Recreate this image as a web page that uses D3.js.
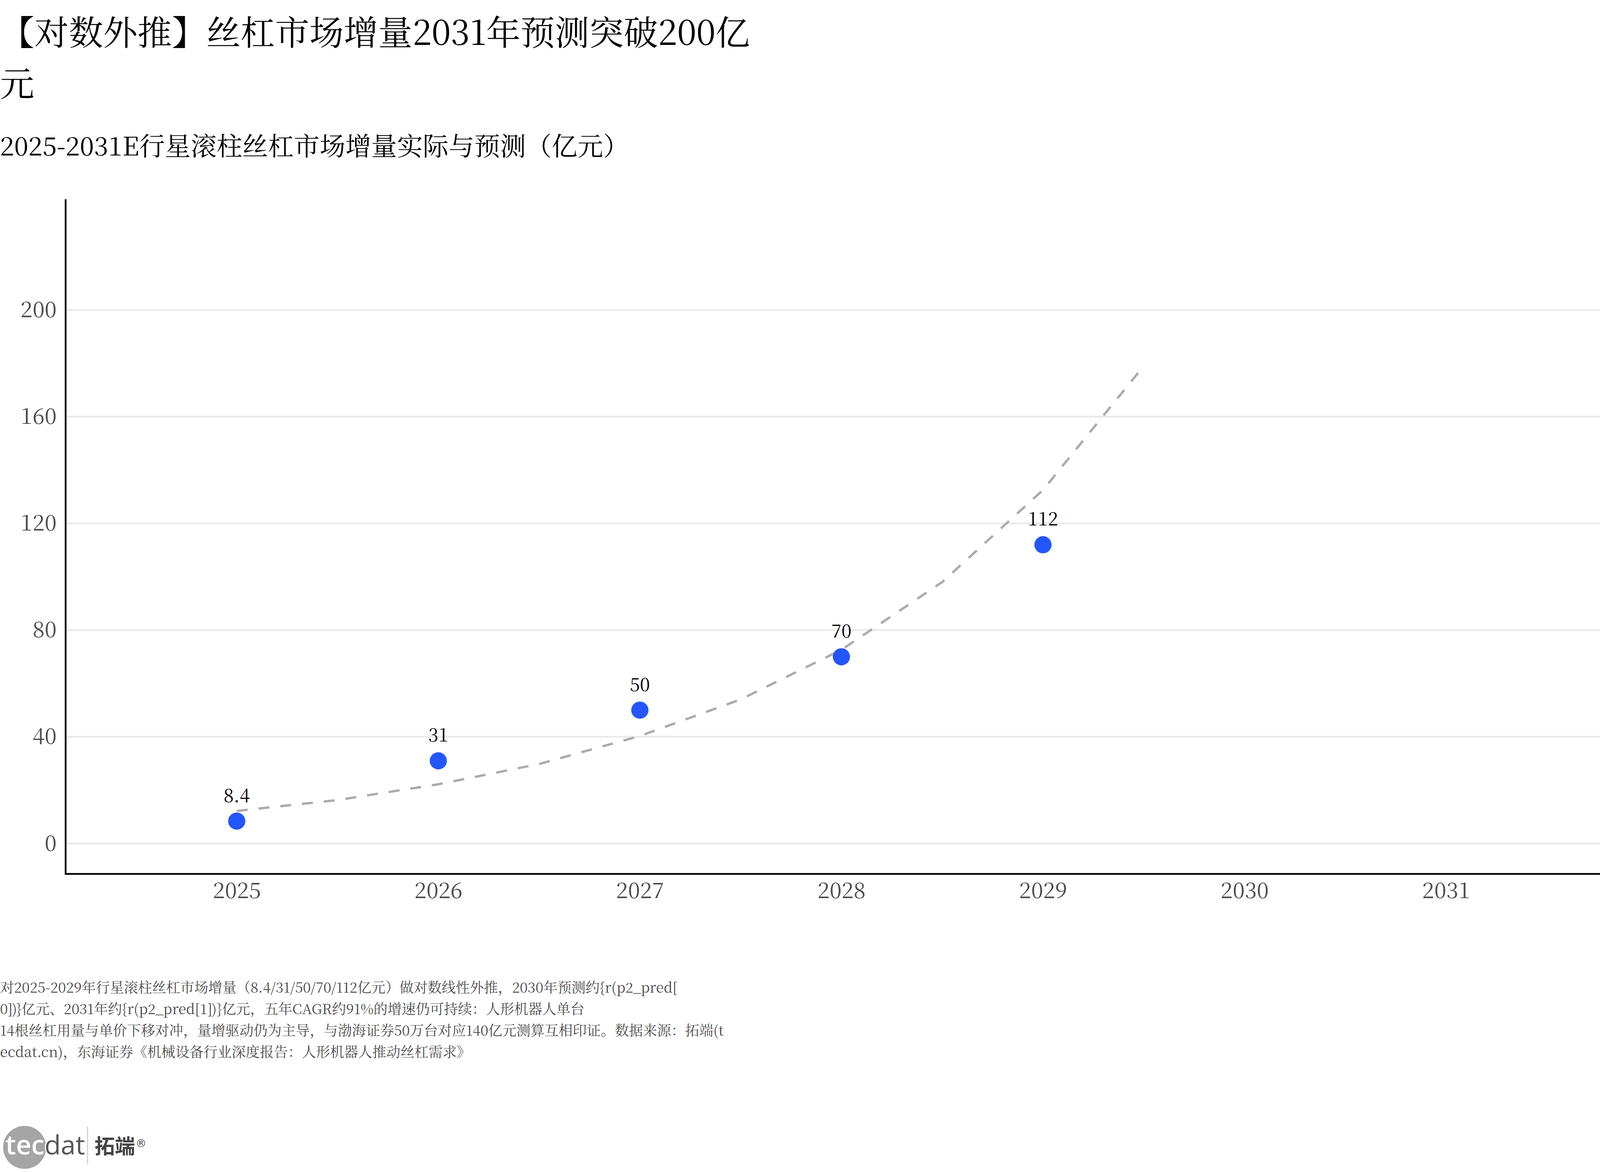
<!DOCTYPE html>
<html>
<head>
<meta charset="utf-8">
<script src="https://cdn.jsdelivr.net/npm/d3@7"></script>
<style>
  html, body { margin: 0; padding: 0; background: #fff; overflow: hidden; }
  .serif { font-family: "Noto Serif CJK SC", "Source Han Serif SC", "AR PL UMing CN", "Liberation Serif", "Noto Sans CJK SC", serif; }
</style>
</head>
<body>
<script>
(function(){

    //title and notes
    var titleLines = ["【对数外推】丝杠市场增量2031年预测突破200亿", "元"];
    var subtitle = "2025-2031E行星滚柱丝杠市场增量实际与预测（亿元）";
    var noteLines = [
        "对2025-2029年行星滚柱丝杠市场增量（8.4/31/50/70/112亿元）做对数线性外推，2030年预测约{r(p2_pred[",
        "0])}亿元、2031年约{r(p2_pred[1])}亿元，五年CAGR约91%的增速仍可持续：人形机器人单台",
        "14根丝杠用量与单价下移对冲，量增驱动仍为主导，与渤海证券50万台对应140亿元测算互相印证。数据来源：拓端(t",
        "ecdat.cn)，东海证券《机械设备行业深度报告：人形机器人推动丝杠需求》"
    ];

    //actual values
    var years = [2025, 2026, 2027, 2028, 2029];
    var actual = [8.4, 31, 50, 70, 112];
    var valueLabels = ["8.4", "31", "50", "70", "112"];

    //fitted trend
    var fitYears = [2025, 2025.5, 2026, 2026.5, 2027, 2027.5, 2028, 2028.5, 2029, 2029.5];
    var fitValues = [12.2, 16.3, 22.2, 29.8, 40.3, 54.0, 72.6, 98.0, 132.5, 179];

    //axis ticks
    var xTicks = [2025, 2026, 2027, 2028, 2029, 2030, 2031];
    var yTicks = [0, 40, 80, 120, 160, 200];

    var width = 4200, height = 3000;
    var plotLeft = 168, plotRight = 4140, plotTop = 510, plotBottom = 2237;

    var svg = d3.select("body")
        .append("svg")
        .attr("width", width)
        .attr("height", height)
        .style("display", "block");

    svg.append("rect")
        .attr("width", width)
        .attr("height", height)
        .attr("fill", "#fff");

    var x = d3.scaleLinear()
        .domain([2024.151, 2031.849])
        .range([plotLeft, plotRight]);

    var y = d3.scaleLinear()
        .domain([-11.4, 241.5])
        .range([plotBottom, plotTop]);

    //titles
    svg.selectAll(".title")
        .data(titleLines)
        .enter()
        .append("text")
        .attr("class", "title serif")
        .attr("x", 0)
        .attr("y", function(d, i){ return 115 + i * 131; })
        .attr("font-size", 88)
        .attr("fill", "#000")
        .text(function(d){ return d; });

    svg.append("text")
        .attr("class", "serif")
        .attr("x", 0)
        .attr("y", 398)
        .attr("font-size", 66)
        .attr("fill", "#000")
        .text(subtitle);

    //gridlines
    svg.selectAll(".grid")
        .data(yTicks)
        .enter()
        .append("line")
        .attr("class", "grid")
        .attr("x1", plotLeft)
        .attr("x2", plotRight)
        .attr("y1", function(d){ return y(d); })
        .attr("y2", function(d){ return y(d); })
        .attr("stroke", "#EBEBEB")
        .attr("stroke-width", 5);

    //axes
    var yAxis = svg.append("g")
        .attr("transform", "translate(" + plotLeft + ",0)")
        .call(d3.axisLeft(y).tickValues(yTicks).tickSize(0).tickPadding(23));
    yAxis.select(".domain").remove();

    var xAxis = svg.append("g")
        .attr("transform", "translate(0," + plotBottom + ")")
        .call(d3.axisBottom(x).tickValues(xTicks).tickFormat(d3.format("d")).tickSize(0).tickPadding(22));
    xAxis.select(".domain").remove();

    [yAxis, xAxis].forEach(function(g){
        g.selectAll("text")
            .attr("class", "serif")
            .attr("font-size", 56)
            .attr("fill", "#4D4D4D");
    });

    svg.append("line")
        .attr("x1", plotLeft).attr("x2", plotLeft)
        .attr("y1", plotTop).attr("y2", plotBottom + 2)
        .attr("stroke", "#000").attr("stroke-width", 4.5);
    svg.append("line")
        .attr("x1", plotLeft - 2).attr("x2", plotRight)
        .attr("y1", plotBottom).attr("y2", plotBottom)
        .attr("stroke", "#000").attr("stroke-width", 4.5);

    //dashed trend line
    var line = d3.line()
        .x(function(d, i){ return x(fitYears[i]); })
        .y(function(d){ return y(d); });

    svg.append("path")
        .datum(fitValues)
        .attr("d", line)
        .attr("fill", "none")
        .attr("stroke", "#ABABAB")
        .attr("stroke-width", 6)
        .attr("stroke-dasharray", "28,28");

    //points
    svg.selectAll(".pt")
        .data(actual)
        .enter()
        .append("circle")
        .attr("class", "pt")
        .attr("cx", function(d, i){ return x(years[i]); })
        .attr("cy", function(d){ return y(d); })
        .attr("r", 22)
        .attr("fill", "#2356FF");

    svg.selectAll(".lbl")
        .data(actual)
        .enter()
        .append("text")
        .attr("class", "lbl serif")
        .attr("x", function(d, i){ return x(years[i]); })
        .attr("y", function(d){ return y(d) - 49; })
        .attr("text-anchor", "middle")
        .attr("font-size", 47)
        .attr("fill", "#000")
        .text(function(d, i){ return valueLabels[i]; });

    //notes
    svg.selectAll(".note")
        .data(noteLines)
        .enter()
        .append("text")
        .attr("class", "note serif")
        .attr("x", 0)
        .attr("y", function(d, i){ return 2541 + i * 55; })
        .attr("font-size", 36)
        .attr("fill", "#4D4D4D")
        .text(function(d){ return d; });

    //logo
    var logo = svg.append("g");
    logo.append("circle")
        .attr("cx", 63).attr("cy", 2937).attr("r", 55)
        .attr("fill", "#A5A5A5");
    logo.append("text")
        .attr("x", 14).attr("y", 2955)
        .attr("font-family", "'Open Sans', sans-serif")
        .attr("font-size", 68)
        .attr("font-weight", 600)
        .attr("fill", "#fff")
        .text("tec");
    logo.append("text")
        .attr("x", 114).attr("y", 2955)
        .attr("font-family", "'Open Sans', sans-serif")
        .attr("font-size", 68)
        .attr("fill", "#555")
        .attr("stroke", "#fff")
        .attr("stroke-width", 6)
        .attr("paint-order", "stroke")
        .text("dat");
    logo.append("line")
        .attr("x1", 224).attr("x2", 224)
        .attr("y1", 2883).attr("y2", 2980)
        .attr("stroke", "#CDD3D3").attr("stroke-width", 3);
    logo.append("text")
        .attr("x", 242).attr("y", 2953)
        .attr("font-family", "'Noto Sans CJK SC', sans-serif")
        .attr("font-size", 52)
        .attr("font-weight", 700)
        .attr("fill", "#444")
        .text("拓端");
    logo.append("text")
        .attr("x", 347).attr("y", 2936)
        .attr("font-family", "'DejaVu Sans', sans-serif")
        .attr("font-size", 28)
        .attr("fill", "#444")
        .text("®");

})();
</script>
</body>
</html>
